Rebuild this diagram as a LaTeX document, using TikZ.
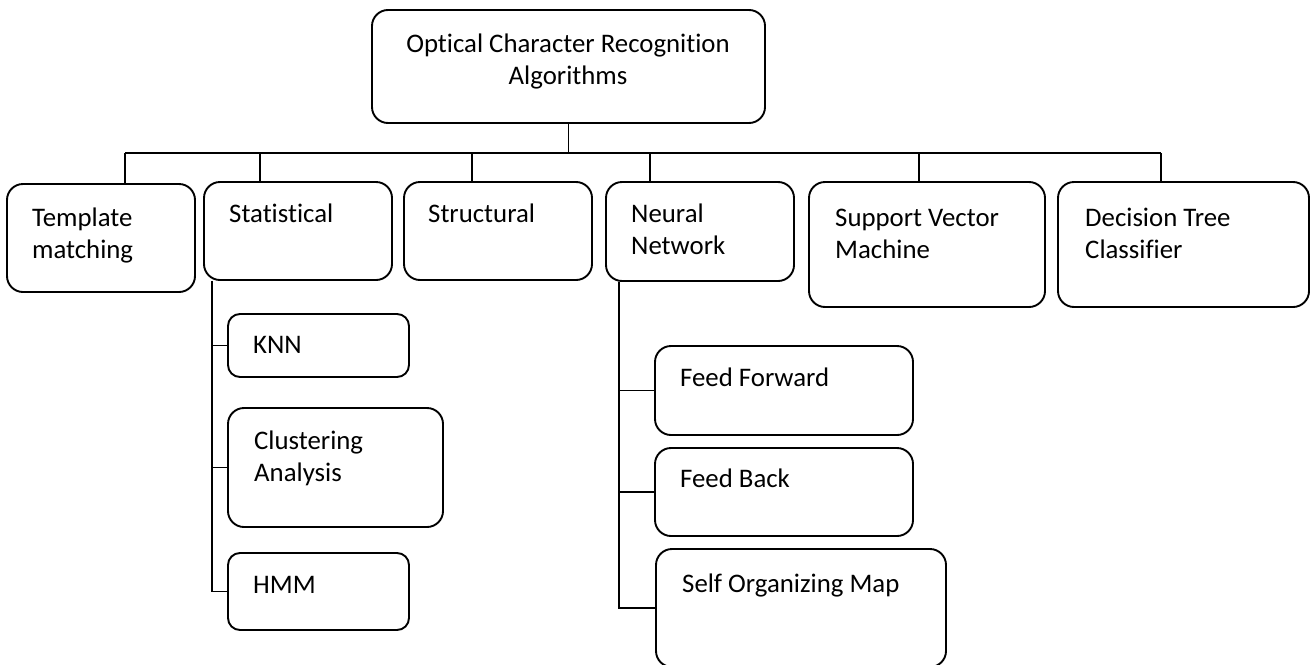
\documentclass[tikz,border=0pt]{standalone}
\usepackage{fontspec}
\setmainfont{Carlito}[Ligatures={NoCommon}]
\begin{document}
\begin{tikzpicture}[x=1pt, y=-1pt,
  box/.style={draw, line width=1.9pt, rounded corners=16pt, inner sep=0pt},
  smallbox/.style={box, rounded corners=12pt},
  lbl/.style={anchor=base west, inner sep=0pt, font=\fontsize{26.8}{32}\selectfont},
  clbl/.style={anchor=base, inner sep=0pt, font=\fontsize{26.8}{32}\selectfont},
  link/.style={line width=1.9pt}]
\useasboundingbox (0,0) rectangle (1313,664);
\fill[white] (0,0) rectangle (1313,664);
\clip (0,0) rectangle (1313,664);

% root
\node[box, minimum width=393pt, minimum height=113pt] (root) at (568.5,66.5) {};
\node[clbl] (rootlbl) at (568,52) {\begin{tabular}[t]{@{}c@{}}Optical Character Recognition\\Algorithms\end{tabular}};

% first level
\node[box, minimum width=188pt, minimum height=108pt] (tm) at (101,238) {};
\node[box, minimum width=188pt, minimum height=98pt] (stat) at (298,231) {};
\node[box, minimum width=188pt, minimum height=98pt] (struct) at (498,231) {};
\node[box, minimum width=188pt, minimum height=99pt] (nn) at (700,231.5) {};
\node[box, minimum width=236pt, minimum height=125pt] (svm) at (927,244.5) {};
\node[box, minimum width=251pt, minimum height=125pt] (dt) at (1183.5,244.5) {};

\node[lbl] (tmlbl) at (32,226) {\begin{tabular}[t]{@{}l@{}}Template\\matching\end{tabular}};
\node[lbl] (statlbl) at (229,222) {Statistical};
\node[lbl] (structlbl) at (428,222) {Structural};
\node[lbl] (nnlbl) at (631,222) {\begin{tabular}[t]{@{}l@{}}Neural\\Network\end{tabular}};
\node[lbl] (svmlbl) at (835,226) {\begin{tabular}[t]{@{}l@{}}Support Vector\\Machine\end{tabular}};
\node[lbl] (dtlbl) at (1085,226) {\begin{tabular}[t]{@{}l@{}}Decision Tree\\Classifier\end{tabular}};

% statistical methods
\node[smallbox, minimum width=181pt, minimum height=63pt] (knn) at (318.5,345.5) {};
\node[box, minimum width=215pt, minimum height=119pt] (clu) at (335.5,467.5) {};
\node[smallbox, minimum width=181pt, minimum height=77pt] (hmm) at (318.5,591.5) {};
\node[lbl] (knnlbl) at (253,353) {KNN};
\node[lbl] (clulbl) at (254,449) {\begin{tabular}[t]{@{}l@{}}Clustering\\Analysis\end{tabular}};
\node[lbl] (hmmlbl) at (253,593) {HMM};

% neural network types
\node[box, minimum width=258pt, minimum height=89pt] (ff) at (784,390.5) {};
\node[box, minimum width=258pt, minimum height=88pt] (fb) at (784,492) {};
\node[box, minimum width=290pt, minimum height=118pt] (som) at (801,608) {};
\node[lbl] (fflbl) at (680,386) {Feed Forward};
\node[lbl] (fblbl) at (680,487) {Feed Back};
\node[lbl] (somlbl) at (682,592) {Self Organizing Map};

% tree connectors
\coordinate (busL) at (125,153);
\coordinate (busR) at (1161,153);
\draw[link] (root.south) -- (root.south |- busL);
\draw[link] (busL) -- (busR);
\coordinate (d1) at (125,153);
\coordinate (d2) at (260,153);
\coordinate (d3) at (472,153);
\coordinate (d4) at (650,153);
\coordinate (d5) at (919,153);
\coordinate (d6) at (1161,153);
\draw[link] (d1) -- (d1 |- tm.north);
\draw[link] (d2) -- (d2 |- stat.north);
\draw[link] (d3) -- (d3 |- struct.north);
\draw[link] (d4) -- (d4 |- nn.north);
\draw[link] (d5) -- (d5 |- svm.north);
\draw[link] (d6) -- (d6 |- dt.north);

\coordinate (sv) at (212,0);
\draw[link] (sv |- stat.south) |- (hmm.west);
\draw[link] (sv |- knn.west) -- (knn.west);
\draw[link] (sv |- clu.west) -- (clu.west);

\coordinate (nv) at (619,0);
\draw[link] (nv |- nn.south) |- (som.west);
\draw[link] (nv |- ff.west) -- (ff.west);
\draw[link] (nv |- fb.west) -- (fb.west);
\end{tikzpicture}
\end{document}
